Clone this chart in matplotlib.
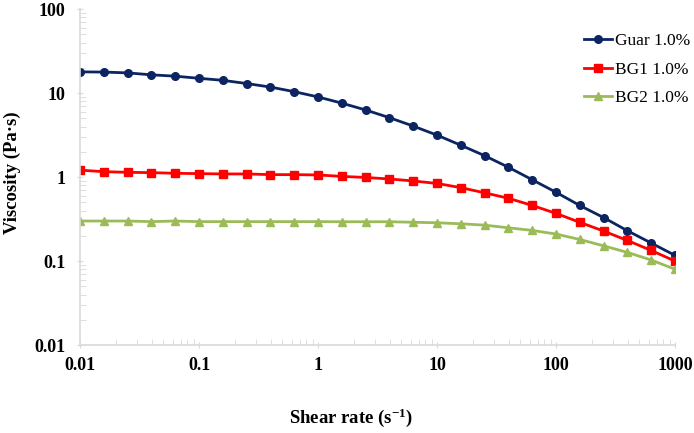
import numpy as np
import matplotlib
matplotlib.use('Agg')
import matplotlib.pyplot as plt
from matplotlib.ticker import FixedLocator, LogLocator, NullFormatter

# shear rate, 5 points per decade
shear_rate = [0.01, 0.0158, 0.0251, 0.0398, 0.0631, 0.1, 0.158, 0.251, 0.398, 0.631,
              1, 1.58, 2.51, 3.98, 6.31, 10, 15.8, 25.1, 39.8, 63.1,
              100, 158, 251, 398, 631, 1000]

guar = [17.9, 17.8, 17.4, 16.5, 15.9, 15.0, 14.2, 13.0, 11.8, 10.4,
        9.0, 7.6, 6.3, 5.1, 4.05, 3.16, 2.4, 1.8, 1.31, 0.93,
        0.66, 0.46, 0.33, 0.23, 0.164, 0.117]
bg1 = [1.21, 1.16, 1.14, 1.13, 1.11, 1.10, 1.09, 1.09, 1.07, 1.07,
       1.06, 1.02, 0.99, 0.95, 0.90, 0.84, 0.75, 0.65, 0.56, 0.46,
       0.37, 0.29, 0.228, 0.176, 0.134, 0.10]
bg2 = [0.30, 0.30, 0.30, 0.295, 0.30, 0.295, 0.295, 0.295, 0.295, 0.295,
       0.295, 0.294, 0.294, 0.294, 0.29, 0.286, 0.278, 0.268, 0.249, 0.232,
       0.21, 0.181, 0.152, 0.127, 0.103, 0.080]

names = ['Guar 1.0%', 'BG1 1.0%', 'BG2 1.0%']
colors = ['#0c2461', '#ff0000', '#9bbb59']
markers = ['o', 's', '^']

plt.rcParams['font.family'] = ['Liberation Serif', 'DejaVu Serif']
plt.rcParams['mathtext.fontset'] = 'custom'
plt.rcParams['mathtext.rm'] = 'Liberation Serif:bold'
plt.rcParams['mathtext.it'] = 'Liberation Serif:bold'
plt.rcParams['mathtext.bf'] = 'Liberation Serif:bold'

fig = plt.figure(figsize=(6.94, 4.33), dpi=100)
ax = fig.add_axes([0.1153, 0.203, 0.8573, 0.776])

for y, name, c, m in zip([guar, bg1, bg2], names, colors, markers):
    ax.plot(shear_rate, y, color=c, marker=m, markersize=6 if m == 's' else 5.5,
            linewidth=2, label=name)

ax.set_xscale('log')
ax.set_yscale('log')
ax.set_xlim(0.01, 1000)
ax.set_ylim(0.01, 100)

xt = [0.01, 0.1, 1, 10, 100, 1000]
yt = [0.01, 0.1, 1, 10, 100]
ax.xaxis.set_major_locator(FixedLocator(xt))
ax.yaxis.set_major_locator(FixedLocator(yt))
ax.set_xticklabels(['0.01', '0.1', '1', '10', '100', '1000'], fontweight='bold', fontsize=13)
ax.set_yticklabels(['0.01', '0.1', '1', '10', '100'], fontweight='bold', fontsize=13)
ax.xaxis.set_minor_locator(LogLocator(base=10, subs=np.arange(2, 10), numticks=20))
ax.yaxis.set_minor_locator(LogLocator(base=10, subs=np.arange(2, 10), numticks=20))
ax.xaxis.set_minor_formatter(NullFormatter())
ax.yaxis.set_minor_formatter(NullFormatter())

for s in ['top', 'right']:
    ax.spines[s].set_visible(False)
for s in ['left', 'bottom']:
    ax.spines[s].set_color('#d9d9d9')
    ax.spines[s].set_linewidth(1.2)

ax.tick_params(which='major', length=5, color='#d9d9d9', direction='inout')
ax.tick_params(which='minor', length=4, color='#d9d9d9', direction='in')
ax.tick_params(axis='x', pad=6)
ax.tick_params(axis='y', pad=8)

# axis titles placed in figure pixels to match the reference layout
W, H = 694, 433
fig.text(351 / W, 1 - 418 / H, r'Shear rate (s$^{\mathregular{-1}}$)', fontweight='bold',
         fontsize=13.5, ha='center', va='center')
fig.text(12 / W, 1 - 173 / H, 'Viscosity (Pa·s)', fontweight='bold', fontsize=13.5,
         rotation=90, ha='center', va='center')

ax.legend(loc='upper right', bbox_to_anchor=(1.052, 0.975), frameon=False,
          fontsize=12.5, handlelength=1.6, handletextpad=0.2, labelspacing=0.7)

fig.savefig('out.png', dpi=100)
